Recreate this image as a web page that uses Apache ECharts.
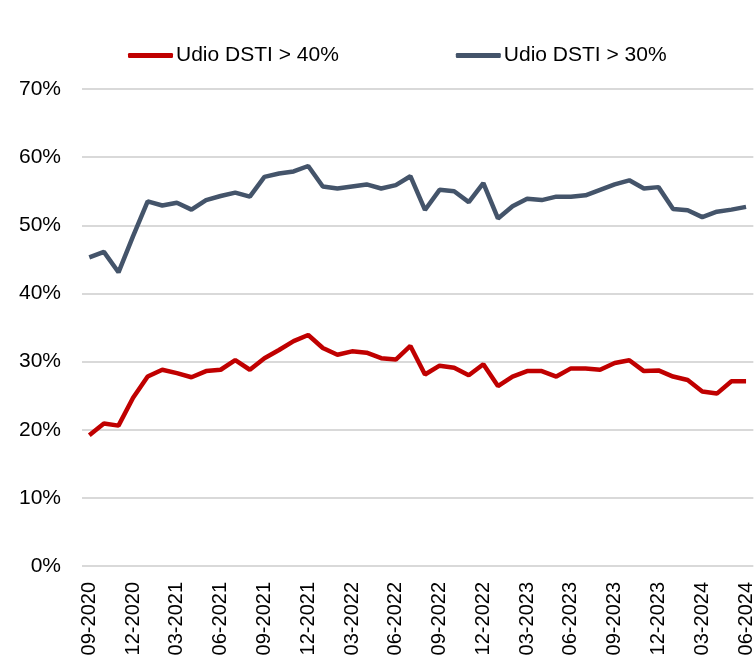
<!DOCTYPE html>
<html>
<head>
<meta charset="utf-8">
<script src="https://cdn.jsdelivr.net/npm/echarts@6/dist/echarts.min.js"></script>
<style>
html,body{margin:0;padding:0;background:#fff;}
#c{width:756px;height:661px;}
</style>
</head>
<body>
<div id="c"></div>
<script>
var categories = [
  "09-2020","10-2020","11-2020","12-2020",
  "01-2021","02-2021","03-2021","04-2021","05-2021","06-2021","07-2021","08-2021","09-2021","10-2021","11-2021","12-2021",
  "01-2022","02-2022","03-2022","04-2022","05-2022","06-2022","07-2022","08-2022","09-2022","10-2022","11-2022","12-2022",
  "01-2023","02-2023","03-2023","04-2023","05-2023","06-2023","07-2023","08-2023","09-2023","10-2023","11-2023","12-2023",
  "01-2024","02-2024","03-2024","04-2024","05-2024","06-2024"
];
var dsti40 = [
  19.2,20.9,20.6,24.7,
  27.8,28.8,28.3,27.7,28.6,28.8,30.2,28.8,30.5,31.7,33.0,33.9,
  32.0,31.0,31.5,31.3,30.5,30.3,32.3,28.1,29.4,29.1,28.0,29.6,
  26.4,27.8,28.6,28.6,27.8,29.0,29.0,28.8,29.8,30.2,28.6,28.7,
  27.8,27.3,25.6,25.3,27.1,27.1
];
var dsti30 = [
  45.3,46.1,43.1,48.4,
  53.5,52.9,53.3,52.3,53.7,54.3,54.8,54.2,57.1,57.6,57.9,58.7,
  55.7,55.4,55.7,56.0,55.4,55.9,57.2,52.25,55.2,55.0,53.4,56.2,
  51.0,52.8,53.9,53.7,54.2,54.2,54.4,55.2,56.0,56.6,55.4,55.6,
  52.4,52.2,51.2,52.0,52.3,52.7
];
var yTicks = [0,10,20,30,40,50,60,70];

var FONT = "'Liberation Sans', Arial, Helvetica, sans-serif";
var chart = echarts.init(document.getElementById('c'));
chart.setOption({
  animation: false,
  backgroundColor: '#ffffff',
  textStyle: {fontFamily: FONT, color: '#000'},
  legend: {
    left: 128,
    top: 45,
    padding: 0,
    itemWidth: 45,
    itemHeight: 5,
    itemGap: 117,
    icon: 'roundRect',
    textStyle: {fontFamily: FONT, fontSize: 21, color: '#000', padding: [0,0,0,-2]},
    data: [
      {name: 'Udio DSTI > 40%', itemStyle: {color: '#C00000'}},
      {name: 'Udio DSTI > 30%', itemStyle: {color: '#44546A'}}
    ]
  },
  grid: {left: 82, top: 89, width: 676, height: 477, containLabel: false},
  xAxis: {
    type: 'category',
    data: categories,
    boundaryGap: true,
    axisLine: {show: false},
    axisTick: {show: false},
    axisLabel: {
      interval: 2,
      rotate: 90,
      margin: 16,
      fontSize: 20,
      fontFamily: FONT,
      color: '#000'
    },
    splitLine: {show: false}
  },
  yAxis: {
    type: 'value',
    min: yTicks[0],
    max: yTicks[yTicks.length - 1],
    interval: 10,
    axisLine: {show: false},
    axisTick: {show: false},
    axisLabel: {
      formatter: '{value}%',
      fontSize: 21,
      fontFamily: FONT,
      color: '#000',
      margin: 21
    },
    splitLine: {lineStyle: {color: '#d9d9d9', width: 2}}
  },
  series: [
    {
      name: 'Udio DSTI > 40%',
      type: 'line',
      data: dsti40,
      symbol: 'none',
      lineStyle: {color: '#C00000', width: 4.5},
      itemStyle: {color: '#C00000'}
    },
    {
      name: 'Udio DSTI > 30%',
      type: 'line',
      data: dsti30,
      symbol: 'none',
      lineStyle: {color: '#44546A', width: 4.5},
      itemStyle: {color: '#44546A'}
    }
  ]
});
</script>
</body>
</html>
